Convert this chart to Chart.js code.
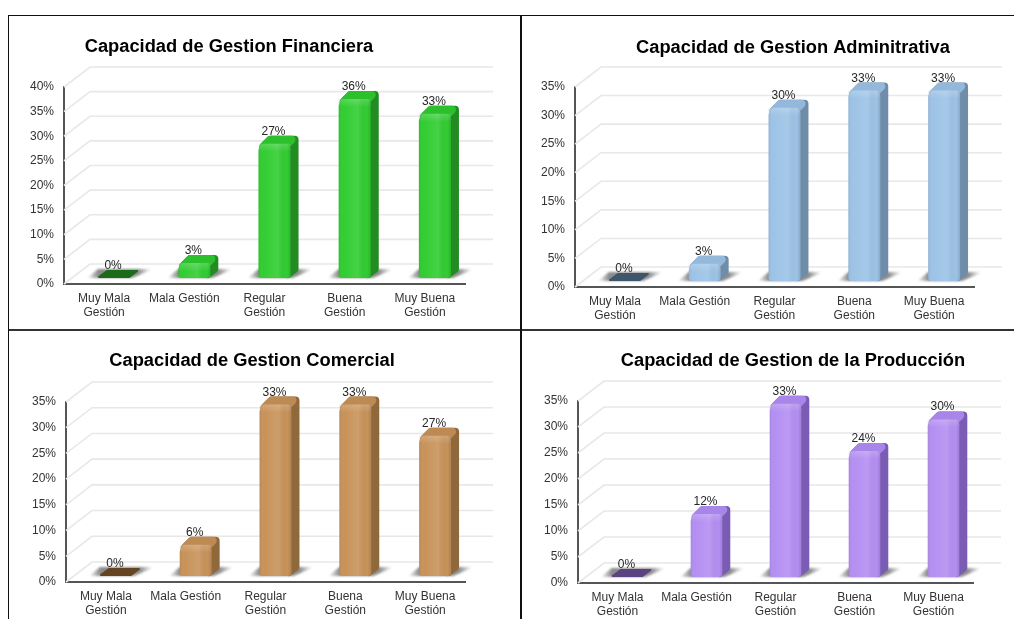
<!DOCTYPE html>
<html><head><meta charset="utf-8">
<style>
html,body{margin:0;padding:0;background:#fff;width:1014px;height:619px;overflow:hidden}
canvas{position:absolute;filter:blur(0.45px)}
.rule{position:absolute;background:#111}
</style>
<script src="https://cdn.jsdelivr.net/npm/chart.js@4"></script>
</head><body>
<div class="rule" style="left:8px;top:15px;width:1006px;height:1px"></div>
<div class="rule" style="left:8px;top:329px;width:1006px;height:2px;background:#333"></div>
<div class="rule" style="left:8px;top:15px;width:1px;height:604px"></div>
<div class="rule" style="left:520px;top:15px;width:2px;height:604px"></div>
<canvas id="c0"></canvas><canvas id="c1"></canvas><canvas id="c2"></canvas><canvas id="c3"></canvas>
<script>
const categories = [["Muy Mala","Gestión"],"Mala Gestión",["Regular","Gestión"],["Buena","Gestión"],["Muy Buena","Gestión"]];
const titles = ["Capacidad de Gestion Financiera","Capacidad de Gestion Adminitrativa","Capacidad de Gestion Comercial","Capacidad de Gestion de la Producción"];
const financiera = [0,3.03,27.27,36.36,33.33];
const administrativa = [0,3.03,30.3,33.33,33.33];
const comercial = [0,6.06,33.33,33.33,27.27];
const produccion = [0,12.12,33.33,24.24,30.3];
const yMaxes = [40,35,35,35];
const faceColors = ["#32cd32","#9dc3e6","#c8935a","#b48ff2"];
const topColors = ["#2cc02c","#93b8dc","#bd8a53","#a885e8"];
const sideColors = ["#228b22","#6f8da9","#8f683c","#7a5cb4"];
const flatColors = ["#1b6b1b","#3d566c","#644421","#5a4380"];

const seriesList = [financiera,administrativa,comercial,produccion];
const frames = [
 {l:9,  t:16, w:511,h:313,x0:64, x1:465,yt:87, yb:284,tc:229,ty:47},
 {l:522,t:16, w:491,h:313,x0:575,x1:974,yt:87, yb:287,tc:793,ty:48},
 {l:9,  t:331,w:511,h:288,x0:66, x1:465,yt:402,yb:582,tc:252,ty:361},
 {l:522,t:331,w:491,h:288,x0:578,x1:973,yt:401,yb:583,tc:793,ty:361}
];
const DX=10, DY=-6, DEPTH=8, WALLX=26, WALLY=20, YW=40, TITLE=18.3;

function rr(c,x,y,w,h,r){c.beginPath();c.roundRect(x,y,w,h,r);}
function poly(c,pts){c.beginPath();pts.forEach((p,i)=>i?c.lineTo(p[0],p[1]):c.moveTo(p[0],p[1]));c.closePath();}
const threeD = {
 id:'threeD',
 afterLayout(chart,_,o){
   const b=chart.titleBlock, mid=(b.left+b.right)/2, d=o.titleCx-mid;
   b.left+=d; b.right+=d;
 },
 beforeDatasetsDraw(chart,_,o){
   const c=chart.ctx, ya=chart.scales.y, xa=chart.scales.x;
   c.save();c.strokeStyle='#e8e8e8';c.lineWidth=1.6;
   ya.ticks.forEach(t=>{
     const p=ya.getPixelForValue(t.value);
     c.beginPath();c.moveTo(xa.left,p);c.lineTo(xa.left+WALLX,p-WALLY);c.lineTo(xa.right+WALLX+2,p-WALLY);c.stroke();
   });
   c.restore();
   c.save();c.translate(DX,DY);
   const meta=chart.getDatasetMeta(0);
   meta.data.forEach(el=>{
     const w=el.width, L=el.x-w/2, R=el.x+w/2, B=el.base;
     const x0=L-11, x1=R+21, s=x1-x0;
     const g=c.createLinearGradient(x0,0,x1,0);
     g.addColorStop(0,'rgba(70,70,70,0)');g.addColorStop(11/s,'rgba(70,70,70,.62)');
     g.addColorStop((R+8-x0)/s,'rgba(70,70,70,.62)');g.addColorStop(1,'rgba(70,70,70,0)');
     c.save();c.filter='blur(1.2px)';c.fillStyle=g;
     poly(c,[[L-11,B],[R+2,B],[R+21,B-8],[R+21,B-9],[L,B-9]]);c.fill();c.restore();
   });
   meta.data.forEach((el,i)=>{
     const w=el.width, L=el.x-w/2, R=el.x+w/2, B=el.base, T=el.y;
     c.lineJoin='round';
     if(chart.data.datasets[0].data[i]===0){
       c.lineWidth=2;c.fillStyle=c.strokeStyle=o.flat;
       poly(c,[[L+1,B-1],[L+DEPTH+1,B-DEPTH+1],[R+DEPTH-1,B-DEPTH+1],[R-1,B-1]]);c.fill();c.stroke();
       return;
     }
     const r=4;
     c.lineWidth=2*r;
     c.fillStyle=c.strokeStyle=o.side;
     poly(c,[[L+r+1,T+3],[L+DEPTH+r,T-DEPTH+r],[R+DEPTH-r,T-DEPTH+r],[R+DEPTH-r,B-DEPTH-r+3],[R-3,B-r],[R-3,T+3]]);
     c.fill();c.stroke();
     c.fillStyle=c.strokeStyle=o.top;
     poly(c,[[L+r+1,T+3],[L+DEPTH+r,T-DEPTH+r],[R+1,T-DEPTH+r],[R-6,T+3]]);
     c.fill();c.stroke();
   });
   c.restore();
   c.save();c.translate(DX,DY);
 },
 afterDatasetsDraw(chart,_,o){
   const c=chart.ctx, meta=chart.getDatasetMeta(0);
   meta.data.forEach((el,i)=>{
     if(chart.data.datasets[0].data[i]===0) return;
     const w=el.width, L=el.x-w/2, T=el.y, H=el.base-el.y;
     const g=c.createLinearGradient(L,0,L+w,0);
     g.addColorStop(0,'rgba(0,0,0,.08)');g.addColorStop(.15,'rgba(255,255,255,0)');
     g.addColorStop(.6,'rgba(255,255,255,.10)');g.addColorStop(.88,'rgba(0,0,0,0)');g.addColorStop(1,'rgba(0,0,0,.12)');
     c.fillStyle=g;rr(c,L,T,w,H,{tl:7,tr:5,bl:3,br:3});c.fill();
     const h=c.createLinearGradient(0,T,0,T+8);
     h.addColorStop(0,'rgba(255,255,255,.18)');h.addColorStop(1,'rgba(255,255,255,0)');
     c.fillStyle=h;rr(c,L,T,w,Math.min(8,H),{tl:7,tr:5,bl:0,br:0});c.fill();
   });
   c.restore();
   c.save();c.font='12px "Liberation Sans"';c.fillStyle='#262626';c.textAlign='center';c.textBaseline='alphabetic';
   meta.data.forEach((el,i)=>{
     const v=chart.data.datasets[0].data[i];
     c.fillText(v.toFixed(0)+'%',el.x+9,el.y+DY-DEPTH-1);
   });
   c.restore();
 }
};
Chart.register(threeD);
Chart.defaults.animation=false;
frames.forEach((f,i)=>{
  const cv=document.getElementById('c'+i);
  cv.style.left=f.l+'px';cv.style.top=f.t+'px';cv.width=f.w;cv.height=f.h;
  const lh=TITLE*1.2, topPad=f.ty-f.t-lh/2, botPad=f.yt-f.t-topPad-lh;
  new Chart(cv,{
    type:'bar',
    data:{labels:categories,datasets:[{data:seriesList[i],backgroundColor:faceColors[i],barPercentage:.4,categoryPercentage:1,
      borderRadius:{topLeft:7,topRight:5,bottomLeft:3,bottomRight:3},borderSkipped:false,borderWidth:0}]},
    options:{
      responsive:false,maintainAspectRatio:false,
      layout:{padding:{left:f.x0-f.l-YW,right:f.l+f.w-f.x1,top:0,bottom:0}},
      plugins:{
        legend:{display:false},tooltip:{enabled:false},
        title:{display:true,text:titles[i],color:'#000',font:{family:'"Liberation Sans"',size:TITLE,weight:'bold',lineHeight:1.2},padding:{top:topPad,bottom:botPad}},
        threeD:{titleCx:f.tc-f.l,side:sideColors[i],top:topColors[i],flat:flatColors[i]}
      },
      scales:{
        x:{afterFit:s=>{s.height=f.t+f.h-f.yb;},grid:{display:false,drawTicks:false},border:{display:true,color:'#555',width:2},
           ticks:{autoSkip:false,maxRotation:0,minRotation:0,padding:8,color:'#333',font:{family:'"Liberation Sans"',size:12,lineHeight:1.13}}},
        y:{min:0,max:yMaxes[i],afterFit:s=>{s.width=YW;},grid:{display:false,drawTicks:false},border:{display:true,color:'#555',width:2},
           ticks:{stepSize:5,padding:10,color:'#333',callback:v=>v+'%',font:{family:'"Liberation Sans"',size:12}}}
      }
    }
  });
});
</script>
</body></html>
